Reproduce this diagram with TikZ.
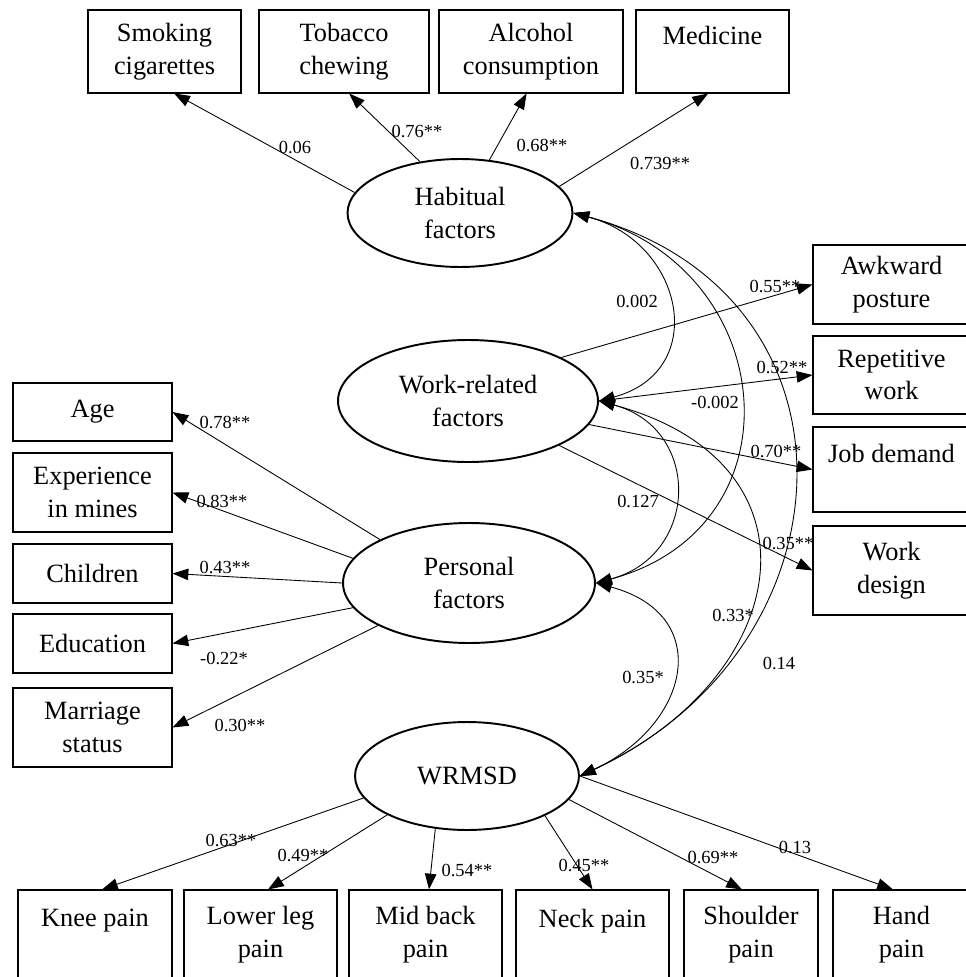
\documentclass[tikz,border=0pt]{standalone}
\usepackage{fontspec}
\setmainfont{Liberation Serif}
\usetikzlibrary{shapes.geometric,arrows.meta,calc}
\newcommand{\boxfont}{\fontsize{15}{18.5}\selectfont}
\newcommand{\coeffont}{\fontsize{10.5}{12}\selectfont}
\tikzset{
  latent/.style={draw, ellipse, line width=1.1pt, inner sep=0pt, align=center, font=\boxfont},
  indicator/.style={draw, rectangle, line width=0.6pt, inner sep=0pt, align=center, font=\boxfont},
  load/.style={-{Triangle[length=9pt,width=6.5pt]}, line width=0.5pt},
  cov/.style={{Triangle[length=9pt,width=6.5pt]}-{Triangle[length=9pt,width=6.5pt]}, line width=0.5pt},
  coef/.style={font=\coeffont, inner sep=0pt},
}

\begin{document}
\begin{tikzpicture}[x=0.02cm, y=-0.02cm]
    \path[use as bounding box, clip] (0,0) rectangle (966,977);
    % latent factors
    \node[latent, minimum width=4.5cm, minimum height=2.16cm] (habitual) at (460,213) {Habitual\\factors};
    \node[latent, minimum width=5.2cm, minimum height=2.44cm] (work) at (468,401) {Work-related\\factors};
    \node[latent, minimum width=5.04cm, minimum height=2.4cm] (personal) at (469,583) {Personal\\factors};
    \node[latent, minimum width=4.48cm, minimum height=2.16cm] (wrmsd) at (467,776) {WRMSD};

    % habits
    \node[indicator, minimum width=3.06cm, minimum height=1.66cm] (smoke) at (164.5,51.5) {Smoking\\cigarettes};
    \node[indicator, minimum width=3.40cm, minimum height=1.66cm] (tobacco) at (344,51.5) {Tobacco\\chewing};
    \node[indicator, minimum width=3.68cm, minimum height=1.66cm] (alcohol) at (531,51.5) {Alcohol\\consumption};
    \node[indicator, minimum width=3.06cm, minimum height=1.66cm] (medicine) at (712.5,51.5) {Medicine\\\phantom{M}};
    % work
    \node[indicator, minimum width=3.14cm, minimum height=1.58cm] (awkward) at (891.5,284.5) {Awkward\\posture};
    \node[indicator, minimum width=3.14cm, minimum height=1.56cm] (repetitive) at (891.5,375) {Repetitive\\work};
    \node[indicator, minimum width=3.14cm, minimum height=1.70cm] (jobdemand) at (891.5,469.5) {Job demand\\\phantom{J}};
    \node[indicator, minimum width=3.14cm, minimum height=1.78cm] (workdesign) at (891.5,570.5) {Work\\design};
    % personal
    \node[indicator, minimum width=3.18cm, minimum height=1.16cm] (age) at (92.5,412) {Age};
    \node[indicator, minimum width=3.18cm, minimum height=1.58cm] (experience) at (92.5,492.5) {Experience\\in mines};
    \node[indicator, minimum width=3.18cm, minimum height=1.18cm] (children) at (92.5,573.5) {Children};
    \node[indicator, minimum width=3.18cm, minimum height=1.18cm] (education) at (92.5,643.5) {Education};
    \node[indicator, minimum width=3.18cm, minimum height=1.58cm] (marriage) at (92.5,727.5) {Marriage\\status};
    % pain
    \node[indicator, minimum width=3.08cm, minimum height=1.78cm] (knee) at (95,934.5) {Knee pain\\\phantom{K}};
    \node[indicator, minimum width=3.06cm, minimum height=1.78cm] (lowerleg) at (260.5,934.5) {Lower leg\\pain};
    \node[indicator, minimum width=3.06cm, minimum height=1.78cm] (midback) at (425.5,934.5) {Mid back\\pain};
    \node[indicator, minimum width=3.06cm, minimum height=1.78cm] (neck) at (592.5,934.5) {Neck pain\\\phantom{N}};
    \node[indicator, minimum width=2.68cm, minimum height=1.78cm] (shoulder) at (751,934.5) {Shoulder\\pain};
    \node[indicator, minimum width=2.74cm, minimum height=1.78cm] (hand) at (901.5,934.5) {Hand\\pain};

    % loadings
    \draw[load] (habitual.169) -- (smoke.-77);
    \draw[load] (habitual.128) -- (tobacco.-83);
    \draw[load] (habitual.61) -- (alcohol.-96);
    \draw[load] (habitual.15) -- (medicine.-96);
    \draw[load] (work.25) -- (awkward.west);
    \draw[load] (work.east) -- (repetitive.west);
    \draw[load] (work.-11) -- (jobdemand.west);
    \draw[load] (work.-26) -- (workdesign.west);
    \draw[load] (personal.154) -- (age.east);
    \draw[load] (personal.168) -- (experience.east);
    \draw[load] (personal.west) -- (children.east);
    \draw[load] (personal.192) -- (education.east);
    \draw[load] (personal.205) -- (marriage.east);
    \draw[load] (wrmsd.192) -- ($(knee.north)+(7,0)$);
    \draw[load] (wrmsd.206) -- ($(lowerleg.north)+(7.5,0)$);
    \draw[load] (wrmsd.239) -- ($(midback.north)+(3.5,0)$);
    \draw[load] (wrmsd.-27) -- (neck.north);
    \draw[load] (wrmsd.-13) -- ($(shoulder.north)+(-9,0)$);
    \draw[load] (wrmsd.east) -- ($(hand.north)+(-8.5,0)$);

    % covariances
    \draw[cov] (habitual.east) to[out=-15, in=15, looseness=1.55] (work.east);
    \draw[cov] (habitual.east) to[out=-15, in=15, looseness=1.48] (personal.east);
    \draw[cov] (habitual.east) to[out=-15, in=25, looseness=1.4] (wrmsd.east);
    \draw[cov] (work.east) to[out=-15, in=15, looseness=1.5] (personal.east);
    \draw[cov] (work.east) to[out=-15, in=25, looseness=1.62] (wrmsd.east);
    \draw[cov] (personal.east) to[out=-15, in=25, looseness=1.62] (wrmsd.east);

    % coefficients
    \node[coef] (c-smoke) at (295,147) {0.06};
    \node[coef] (c-tobacco) at (417,131) {0.76**};
    \node[coef] (c-alcohol) at (542,145) {0.68**};
    \node[coef] (c-medicine) at (660,163) {0.739**};
    \node[coef] (c-awkward) at (775,286) {0.55**};
    \node[coef] (c-repetitive) at (782,367) {0.52**};
    \node[coef] (c-jobdemand) at (776,451) {0.70**};
    \node[coef] (c-workdesign) at (788,543) {0.35**};
    \node[coef] (c-age) at (225,422) {0.78**};
    \node[coef] (c-experience) at (222,501) {0.83**};
    \node[coef] (c-children) at (225,567) {0.43**};
    \node[coef] (c-education) at (224,658) {-0.22*};
    \node[coef] (c-marriage) at (240,725) {0.30**};
    \node[coef] (c-knee) at (231,840) {0.63**};
    \node[coef] (c-lowerleg) at (303,855) {0.49**};
    \node[coef] (c-midback) at (467,870) {0.54**};
    \node[coef] (c-neck) at (584,865) {0.45**};
    \node[coef] (c-shoulder) at (713,857) {0.69**};
    \node[coef] (c-hand) at (795,847) {0.13};
    \node[coef] (c-hw) at (637,301) {0.002};
    \node[coef] (c-hp) at (715,402) {-0.002};
    \node[coef] (c-wp) at (638,501) {0.127};
    \node[coef] (c-ww) at (733,615) {0.33*};
    \node[coef] (c-hm) at (779,663) {0.14};
    \node[coef] (c-pm) at (643,677) {0.35*};
\end{tikzpicture}
\end{document}
